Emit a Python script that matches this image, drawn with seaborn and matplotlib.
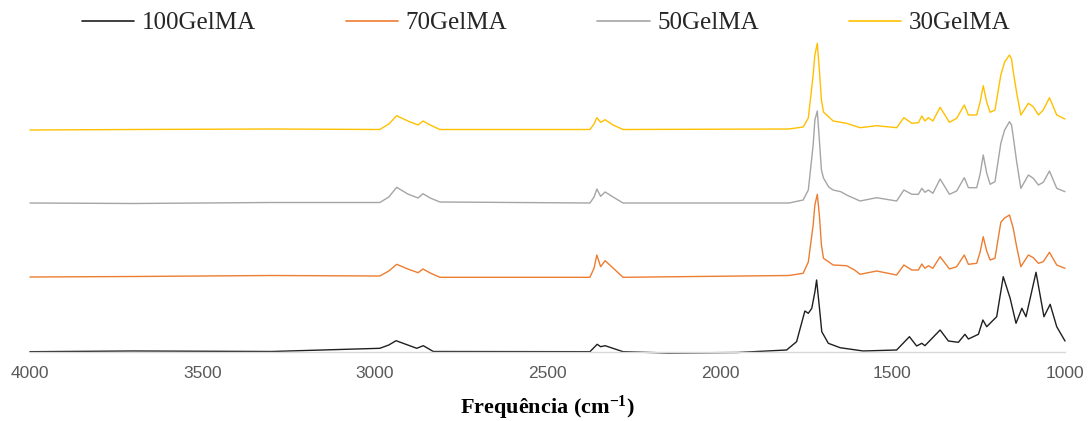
import matplotlib
matplotlib.use("Agg")
import matplotlib.pyplot as plt
import seaborn as sns
import pandas as pd
from matplotlib import font_manager as fm

# ---------------- data (wavenumber cm-1, absorbance a.u., stacked as plotted) ----------------
series_names = ["100GelMA", "70GelMA", "50GelMA", "30GelMA"]

wn_30 = [4000, 3700, 3300, 2986, 2960, 2937, 2905, 2875, 2861, 2840, 2812, 2377, 2365, 2357, 2346, 2333,
         2310, 2281, 1800, 1759, 1744, 1730, 1725, 1718, 1712, 1706, 1700, 1672, 1633, 1594, 1546, 1488,
         1467, 1444, 1425, 1415, 1406, 1396, 1383, 1362, 1335, 1314, 1292, 1280, 1256, 1246, 1237, 1227,
         1217, 1203, 1186, 1175, 1161, 1155, 1150, 1140, 1128, 1106, 1092, 1077, 1063, 1045, 1024, 1000]
ab_30 = [2.22, 2.225, 2.23, 2.225, 2.28, 2.363, 2.31, 2.27, 2.31, 2.27, 2.225, 2.225, 2.28, 2.343, 2.297, 2.323,
         2.27, 2.225, 2.23, 2.25, 2.34, 2.77, 2.97, 3.087, 2.82, 2.52, 2.40, 2.31, 2.287, 2.243, 2.263, 2.243,
         2.343, 2.287, 2.293, 2.36, 2.31, 2.343, 2.31, 2.447, 2.297, 2.337, 2.47, 2.37, 2.37, 2.50, 2.663, 2.50,
         2.397, 2.42, 2.77, 2.90, 2.97, 2.93, 2.803, 2.59, 2.37, 2.487, 2.453, 2.37, 2.42, 2.543, 2.37, 2.33]

wn_50 = [4000, 3700, 3300, 2986, 2960, 2937, 2905, 2875, 2861, 2840, 2812, 2377, 2365, 2357, 2346, 2333,
         2310, 2281, 1800, 1759, 1744, 1730, 1725, 1718, 1712, 1706, 1700, 1685, 1672, 1650, 1633, 1594,
         1546, 1488, 1467, 1444, 1425, 1415, 1406, 1396, 1383, 1362, 1335, 1314, 1292, 1280, 1256, 1246,
         1237, 1227, 1217, 1203, 1186, 1175, 1161, 1155, 1150, 1140, 1128, 1106, 1092, 1077, 1063, 1045,
         1024, 1000]
ab_50 = [1.49, 1.485, 1.495, 1.495, 1.55, 1.647, 1.58, 1.54, 1.583, 1.54, 1.50, 1.49, 1.55, 1.63, 1.557, 1.60,
         1.55, 1.49, 1.49, 1.52, 1.62, 2.07, 2.32, 2.41, 2.12, 1.82, 1.74, 1.65, 1.62, 1.603, 1.57, 1.51,
         1.543, 1.51, 1.62, 1.577, 1.577, 1.637, 1.597, 1.62, 1.587, 1.73, 1.577, 1.61, 1.743, 1.643, 1.643, 1.78,
         1.97, 1.79, 1.677, 1.703, 2.087, 2.22, 2.303, 2.27, 2.153, 1.90, 1.637, 1.77, 1.737, 1.67, 1.697, 1.81,
         1.637, 1.603]

wn_70 = [4000, 3700, 3300, 2986, 2960, 2937, 2905, 2875, 2861, 2840, 2812, 2377, 2365, 2357, 2346, 2333,
         2310, 2281, 1800, 1759, 1744, 1730, 1725, 1718, 1712, 1706, 1700, 1672, 1633, 1610, 1594, 1546,
         1488, 1467, 1444, 1425, 1415, 1406, 1396, 1383, 1362, 1335, 1314, 1292, 1280, 1256, 1246, 1237,
         1227, 1217, 1203, 1186, 1175, 1161, 1150, 1140, 1128, 1106, 1092, 1077, 1063, 1045, 1024, 1000]
ab_70 = [0.75, 0.755, 0.765, 0.76, 0.81, 0.877, 0.83, 0.793, 0.83, 0.79, 0.747, 0.747, 0.84, 0.97, 0.853, 0.913,
         0.84, 0.747, 0.765, 0.787, 0.90, 1.27, 1.47, 1.577, 1.37, 1.07, 0.937, 0.87, 0.863, 0.82, 0.777, 0.81,
         0.77, 0.87, 0.82, 0.82, 0.88, 0.837, 0.863, 0.837, 0.953, 0.83, 0.853, 0.97, 0.877, 0.887, 1.00, 1.153,
         1.01, 0.92, 0.937, 1.297, 1.34, 1.37, 1.237, 1.05, 0.853, 0.97, 0.943, 0.887, 0.903, 0.997, 0.87, 0.837]

wn_100 = [4000, 3700, 3300, 2986, 2960, 2939, 2879, 2860, 2831, 2377, 2356, 2346, 2333, 2281, 2150, 1950,
          1807, 1778, 1754, 1744, 1734, 1725, 1720, 1712, 1705, 1686, 1652, 1585, 1488, 1451, 1430, 1415,
          1406, 1362, 1338, 1309, 1290, 1280, 1251, 1238, 1227, 1198, 1179, 1159, 1142, 1125, 1113, 1084,
          1061, 1043, 1024, 1000]
ab_100 = [0.003, 0.01, 0.005, 0.037, 0.07, 0.113, 0.037, 0.063, 0.005, 0.003, 0.077, 0.053, 0.063, 0.003, -0.01, -0.005,
          0.02, 0.103, 0.41, 0.387, 0.437, 0.60, 0.72, 0.45, 0.203, 0.087, 0.043, 0.01, 0.02, 0.153, 0.06, 0.087,
          0.063, 0.22, 0.11, 0.097, 0.177, 0.13, 0.177, 0.32, 0.253, 0.353, 0.753, 0.537, 0.287, 0.437, 0.353, 0.797,
          0.353, 0.477, 0.253, 0.11]

x_ticks = [4000, 3500, 3000, 2500, 2000, 1500, 1000]
x_label = "Frequência (cm$^{-1}$)"

colors = ["#1f1f1f", "#ED7D31", "#A5A5A5", "#FFC000"]

# ---------------- build table ----------------
frames = []
for name, wn, ab in [("100GelMA", wn_100, ab_100), ("70GelMA", wn_70, ab_70),
                     ("50GelMA", wn_50, ab_50), ("30GelMA", wn_30, ab_30)]:
    frames.append(pd.DataFrame({"wn": wn, "ab": ab, "serie": name}))
df = pd.concat(frames, ignore_index=True)

# ---------------- fonts ----------------
sns.set_style("white")
avail = {f.name for f in fm.fontManager.ttflist}
tick_font = "Liberation Sans Narrow" if "Liberation Sans Narrow" in avail else "Liberation Sans"
serif_font = "Liberation Serif"
plt.rcParams["font.family"] = [serif_font, "DejaVu Serif"]
plt.rcParams["mathtext.default"] = "regular"

fig = plt.figure(figsize=(10.92, 4.21), dpi=100)
ax = fig.add_axes([30 / 1092, 69 / 421, 1035 / 1092, 312 / 421])

sns.lineplot(data=df, x="wn", y="ab", hue="serie", hue_order=series_names,
             palette=colors, estimator=None, sort=True, linewidth=1.0, ax=ax, legend=False)

ax.set_xlim(4000, 1000)
ax.set_ylim(0, 3.12)
ax.set_xticks(x_ticks)
ax.set_xticklabels([str(t) for t in x_ticks], fontfamily=tick_font, fontsize=12.5, color="#595959")
ax.set_yticks([])
ax.set_ylabel("")
ax.set_xlabel(x_label, fontsize=16, fontweight="bold", fontfamily=serif_font, color="black", labelpad=9)
ax.tick_params(axis="x", length=0, pad=10)
for s in ["top", "right", "left"]:
    ax.spines[s].set_visible(False)
ax.spines["bottom"].set_color("#D9D9D9")
ax.spines["bottom"].set_linewidth(1.0)
for ln in ax.lines:
    ln.set_clip_on(False)

handles = [plt.Line2D([], [], color=c, linewidth=1.2) for c in colors]
fig.legend(handles, series_names, loc="upper center", bbox_to_anchor=(0.5, 1.025), ncol=4,
           frameon=False, prop={"family": serif_font, "size": 18}, handlelength=2.1,
           columnspacing=3.6, handletextpad=0.3)

fig.savefig("out.png", dpi=100)
